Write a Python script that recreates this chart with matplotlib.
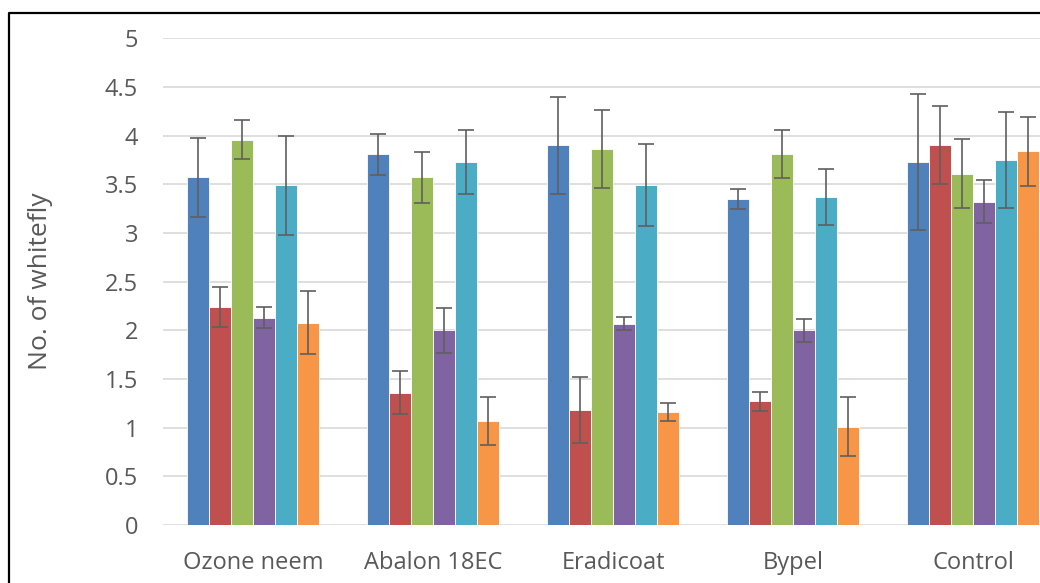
import matplotlib
matplotlib.use("Agg")
import matplotlib.pyplot as plt
from matplotlib.lines import Line2D
import numpy as np

plt.rcParams["font.family"] = ["Open Sans", "DejaVu Sans"]

groups = ["Ozone neem", "Abalon 18EC", "Eradicoat", "Bypel", "Control"]

# one list per series (six series per treatment)
s1 = [3.57, 3.81, 3.90, 3.35, 3.73]
s2 = [2.24, 1.36, 1.18, 1.27, 3.90]
s3 = [3.96, 3.57, 3.86, 3.81, 3.61]
s4 = [2.13, 2.00, 2.07, 2.00, 3.32]
s5 = [3.49, 3.73, 3.49, 3.37, 3.75]
s6 = [2.08, 1.07, 1.16, 1.01, 3.84]

e1 = [0.41, 0.21, 0.50, 0.105, 0.70]
e2 = [0.205, 0.22, 0.34, 0.10, 0.40]
e3 = [0.20, 0.26, 0.40, 0.245, 0.355]
e4 = [0.11, 0.23, 0.065, 0.12, 0.22]
e5 = [0.51, 0.33, 0.42, 0.29, 0.49]
e6 = [0.32, 0.245, 0.095, 0.30, 0.355]

series = [s1, s2, s3, s4, s5, s6]
errors = [e1, e2, e3, e4, e5, e6]
colors = ["#4F81BD", "#C0504D", "#9BBB59", "#8064A2", "#4BACC6", "#F79646"]

W, H = 1040, 583
fig = plt.figure(figsize=(W / 100, H / 100), dpi=100)
# plot area runs past the right edge (picture is cropped there)
ax = fig.add_axes([163 / W, (H - 525) / H, 900 / W, (525 - 38.3) / H])

x = np.arange(len(groups))
bw = 0.733 / 6
for i, (vals, errs, c) in enumerate(zip(series, errors, colors)):
    pos = x - 0.733 / 2 + bw * (i + 0.5)
    ax.bar(pos, vals, width=bw, color=c, edgecolor="white", linewidth=0.6, zorder=2)
    ax.errorbar(pos, vals, yerr=errs, fmt="none", ecolor="#5f5f5f",
                elinewidth=1.2, capsize=6, capthick=1.2, zorder=3)

ax.set_xlim(-0.5, len(groups) - 0.5)
ax.set_ylim(0, 5)
ax.set_yticks(np.arange(0, 5.01, 0.5))
ax.set_yticklabels(["0", "0.5", "1", "1.5", "2", "2.5", "3", "3.5", "4", "4.5", "5"])
ax.set_xticks(x)
ax.set_xticklabels(groups)
ax.grid(axis="y", color="#d9d9d9", linewidth=1.2, zorder=0)
ax.set_axisbelow(True)
for sp in ax.spines.values():
    sp.set_visible(False)
ax.tick_params(axis="both", length=0, labelsize=17, colors="#595959")
ax.tick_params(axis="y", pad=18)
ax.tick_params(axis="x", pad=19)
ax.set_ylabel("No. of whitefly", fontsize=19, color="#595959", labelpad=37)

# outer chart border (top and left are visible in the crop)
fig.add_artist(Line2D([8.5 / W, 8.5 / W, 1.0], [0.0, 1 - 13 / H, 1 - 13 / H],
                      transform=fig.transFigure, color="black", linewidth=1.6))

fig.savefig("out.png", dpi=100)
